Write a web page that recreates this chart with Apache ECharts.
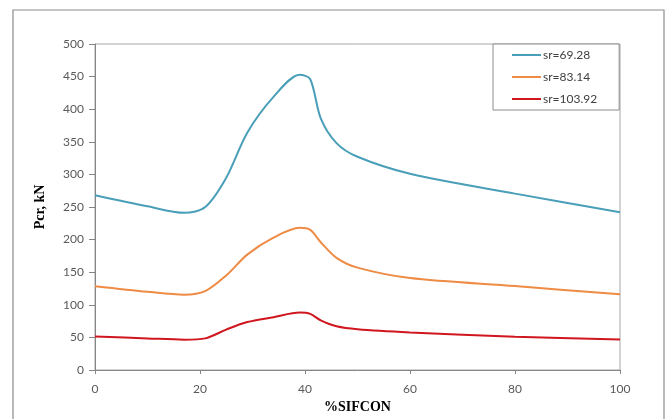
<!DOCTYPE html>
<html>
<head>
<meta charset="utf-8">
<script src="https://cdn.jsdelivr.net/npm/echarts@6/dist/echarts.min.js"></script>
<style>
html,body{margin:0;padding:0;background:#fff;}
#c{width:672px;height:419px;}
</style>
</head>
<body>
<div id="c"></div>
<script>
const xs = [0, 10, 17, 21, 25, 29, 34, 39, 41, 43, 46, 50, 60, 80, 100];
const sr6928 = [268, 251, 241, 250, 295, 364, 419, 453, 446, 386, 348, 327, 301, 270.5, 242];
const sr8314 = [128.5, 120, 115.5, 121, 145, 177, 203, 218, 215, 196, 172, 157, 141, 128.7, 116];
const sr10392 = [51.5, 48.5, 46.5, 48.5, 62, 73.5, 81, 88, 86, 76, 67, 62.5, 57.7, 51, 46.6];
const seriesNames = ['sr=69.28', 'sr=83.14', 'sr=103.92'];
const xTicks = [0, 20, 40, 60, 80, 100];
const yTicks = [0, 50, 100, 150, 200, 250, 300, 350, 400, 450, 500];

const colors = ['#4A9FB8', '#EE8B45', '#D0161E'];
const pair = arr => xs.map((x, i) => [x, arr[i]]);
const tickFont = {fontFamily: 'Lato', fontSize: 12, color: '#595959'};
const titleFont = {fontFamily: 'Liberation Serif', fontSize: 14, fontWeight: 'bold', color: '#000'};

const chart = echarts.init(document.getElementById('c'));
chart.setOption({
  animation: false,
  color: colors,
  graphic: [{
    type: 'rect',
    shape: {x: 13, y: 10, width: 651, height: 430},
    style: {fill: 'none', stroke: '#8c8c8c', lineWidth: 1.2},
    silent: true, z: -1
  }],
  grid: {left: 95, right: 52, top: 44, bottom: 43, show: true, borderColor: '#a6a6a6', borderWidth: 1, backgroundColor: 'transparent'},
  legend: {
    orient: 'vertical',
    left: 493, top: 44,
    padding: [5, 22, 5, 19],
    itemGap: 10,
    itemWidth: 29, itemHeight: 2,
    icon: 'rect',
    borderColor: '#8c8c8c', borderWidth: 1,
    backgroundColor: '#fff',
    textStyle: {fontFamily: 'Lato', fontSize: 12, color: '#404040', padding: [0, 0, 0, -3]},
    data: seriesNames
  },
  xAxis: {
    type: 'value', min: 0, max: 100, interval: 20,
    name: '%SIFCON', nameLocation: 'middle', nameGap: 30, nameTextStyle: titleFont,
    axisLine: {lineStyle: {color: '#868686', width: 1}},
    axisTick: {show: true, length: 4, lineStyle: {color: '#868686'}},
    axisLabel: Object.assign({margin: 13}, tickFont),
    splitLine: {show: false}
  },
  yAxis: {
    type: 'value', min: 0, max: 500, interval: 50,
    name: 'Pcr, kN', nameLocation: 'middle', nameGap: 48, nameRotate: 90, nameTextStyle: titleFont,
    axisLine: {show: true, lineStyle: {color: '#868686', width: 1}},
    axisTick: {show: true, length: 6, lineStyle: {color: '#868686'}},
    axisLabel: Object.assign({margin: 11}, tickFont),
    splitLine: {show: false}
  },
  series: [sr6928, sr8314, sr10392].map((arr, i) => ({
    name: seriesNames[i],
    type: 'line',
    data: pair(arr),
    smooth: 0.3,
    symbol: 'none',
    lineStyle: {width: 2, color: colors[i]},
    itemStyle: {color: colors[i]}
  }))
});
</script>
</body>
</html>
